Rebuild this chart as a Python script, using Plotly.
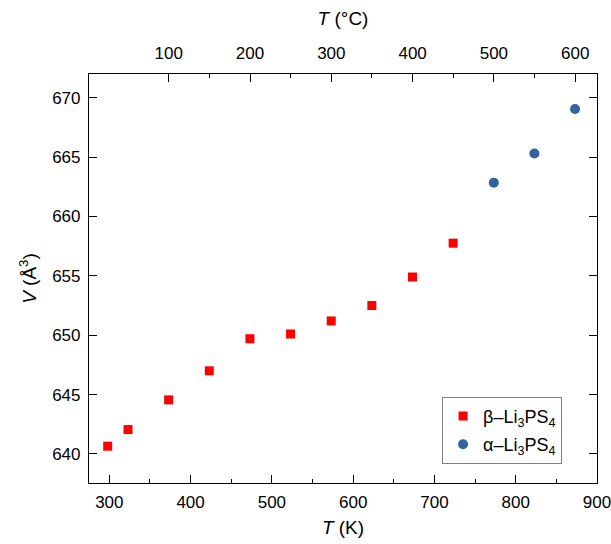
import plotly.graph_objects as go

# beta phase (K, A^3)
beta_T = [298, 323, 373, 423, 473, 523, 573, 623, 673, 723]
beta_V = [640.65, 642.05, 644.55, 647.0, 649.7, 650.1, 651.2, 652.5, 654.9, 657.75]
# alpha phase
alpha_T = [773, 823, 873]
alpha_V = [662.85, 665.3, 669.05]

celsius_ticks = [100, 200, 300, 400, 500, 600]
celsius_minor = [150, 250, 350, 450, 550]

font_family = "Liberation Sans, Arial, sans-serif"
xrange_K = [275, 900]

fig = go.Figure()
fig.add_trace(go.Scatter(
    x=beta_T, y=beta_V, mode="markers", legendgroup="beta",
    marker=dict(symbol="square", size=9, color="#ff0000"),
    name="β–Li<sub>3</sub>PS<sub>4</sub>",
))
fig.add_trace(go.Scatter(
    x=alpha_T, y=alpha_V, mode="markers", legendgroup="alpha",
    marker=dict(symbol="circle", size=10, color="#31639c"),
    name="α–Li<sub>3</sub>PS<sub>4</sub>",
))
# dummy trace so the top (Celsius) axis gets drawn
fig.add_trace(go.Scatter(x=[None], y=[None], xaxis="x2", showlegend=False, hoverinfo="skip"))

fig.update_layout(
    width=611, height=544,
    margin=dict(l=89, r=14, t=74, b=61),
    paper_bgcolor="white", plot_bgcolor="white",
    font=dict(family=font_family, size=17, color="black"),
    showlegend=True,
    legend=dict(
        x=0.695, y=0.211, xanchor="left", yanchor="top",
        bordercolor="#808080", borderwidth=1, bgcolor="white",
        font=dict(size=18), itemwidth=30, traceorder="grouped", tracegroupgap=2,
    ),
    xaxis=dict(
        range=xrange_K, tickvals=[300, 400, 500, 600, 700, 800, 900],
        ticks="inside", ticklen=8, tickwidth=1.2, tickcolor="black",
        minor=dict(tickvals=[350, 450, 550, 650, 750, 850], ticks="inside",
                   ticklen=4, tickwidth=1.2, tickcolor="black"),
        showline=True, linecolor="black", linewidth=1.2, mirror=False,
        showgrid=False, zeroline=False, automargin=False, ticklabelstandoff=3,
        ticklabeloverflow="allow",
        title=dict(text="<i>T</i> (K)", font=dict(size=19), standoff=10),
    ),
    xaxis2=dict(
        overlaying="x", side="top", anchor="y", range=xrange_K,
        tickvals=[c + 273.15 for c in celsius_ticks],
        ticktext=[str(c) for c in celsius_ticks],
        ticks="inside", ticklen=8, tickwidth=1.2, tickcolor="black",
        minor=dict(tickvals=[c + 273.15 for c in celsius_minor], ticks="inside",
                   ticklen=4, tickwidth=1.2, tickcolor="black"),
        showline=True, linecolor="black", linewidth=1.2,
        showgrid=False, zeroline=False, automargin=False, ticklabelstandoff=7,
        ticklabeloverflow="allow",
        title=dict(text="<i>T</i> (°C)", font=dict(size=19), standoff=13),
    ),
    yaxis=dict(
        range=[637.55, 672.0], tickvals=[640, 645, 650, 655, 660, 665, 670],
        ticks="inside", ticklen=8, tickwidth=1.2, tickcolor="black",
        showline=True, linecolor="black", linewidth=1.2, mirror="ticks",
        showgrid=False, zeroline=False, automargin=False, ticklabelstandoff=4,
        title=dict(text="<i>V</i> (Å<sup>3</sup>)", font=dict(size=19), standoff=10),
    ),
)

fig.write_html("out.html", config={"displayModeBar": False},
               post_script="document.body.style.margin='0';")
